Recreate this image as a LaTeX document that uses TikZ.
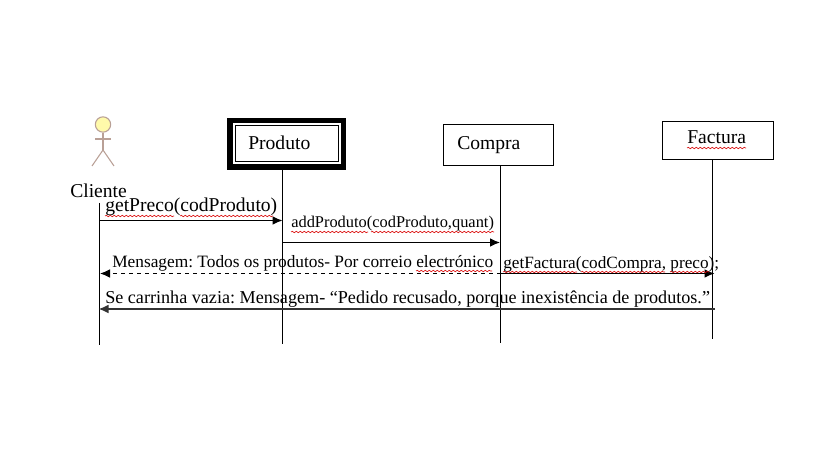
\documentclass[tikz,border=0pt]{standalone}
\usepackage{fontspec}
\setmainfont{Liberation Serif}
\usetikzlibrary{arrows.meta,decorations.pathmorphing}
\definecolor{headfill}{RGB}{255,250,170}
\definecolor{actorline}{RGB}{185,160,150}
\tikzset{
  obj/.style={draw,line width=0.75pt,fill=white,inner sep=0pt},
  lbl/.style={inner sep=0pt,anchor=base west,font=\fontsize{14.7}{16}\selectfont},
  msg/.style={inner sep=0pt,anchor=base west,font=\fontsize{13}{15}\selectfont},
  life/.style={line width=0.85pt},
  call/.style={-{Latex[length=7.5pt,width=6.5pt]},line width=0.85pt},
  spell/.style={red!85!black,line width=0.45pt,decorate,decoration={snake,amplitude=0.5pt,segment length=3pt}}
}
\frenchspacing
\begin{document}
\begin{tikzpicture}[x=0.75pt,y=-0.75pt]
\useasboundingbox (0,0) rectangle (819,460);

% objects
\node[obj,minimum width=77.25pt,minimum height=27pt] (produto) at (286.5,144) {};
\draw[line width=4.2pt] ([shift={(-3.6pt,-3.2pt)}]produto.south west) rectangle ([shift={(3.6pt,3.6pt)}]produto.north east);
\node[obj,minimum width=82.5pt,minimum height=30.75pt] (compra) at (498,145.5) {};
\node[obj,minimum width=83.25pt,minimum height=28.5pt] (factura) at (717.5,141) {};
\node[lbl] (produtoLbl) at (248,149.5) {Produto};
\node[lbl] (compraLbl) at (457,149.5) {Compra};
\node[lbl] (facturaLbl) at (687,144) {Factura};
\draw[spell] (687,148) -- (746,148);

% actor
\node[circle,draw=actorline,fill=headfill,line width=0.8pt,minimum size=11.5pt,inner sep=0pt] (head) at (103,124.5) {};
\coordinate (hip) at (103,150);
\draw[actorline,line width=0.8pt] (head) -- (hip);
\draw[actorline,line width=0.8pt] (95,139) -- (111,139);
\draw[actorline,line width=0.8pt] (92,166) -- (hip) -- (114,166);
\node[lbl] (cliente) at (70,198) {Cliente};

% lifelines
\coordinate (clienteTop) at (99.5,203);
\coordinate (clienteEnd) at (99.5,345);
\coordinate (produtoTop) at (282.5,169);
\coordinate (produtoEnd) at (282.5,344);
\coordinate (compraTop) at (500.5,166);
\coordinate (compraEnd) at (500.5,343);
\coordinate (facturaTop) at (712.5,160);
\coordinate (facturaEnd) at (712.5,339);
\draw[life] (clienteTop) -- (clienteEnd);
\draw[life] (produtoTop) -- (produtoEnd);
\draw[life] (compraTop) -- (compraEnd);
\draw[life] (facturaTop) -- (facturaEnd);

% messages
\coordinate (m1a) at (99.5,220.5);
\coordinate (m1b) at (282.5,220.5);
\coordinate (m2a) at (282.5,242.5);
\coordinate (m2b) at (500,242.5);
\coordinate (m3a) at (500.5,273.5);
\coordinate (m3b) at (100,273.5);
\coordinate (m4a) at (500.5,273.5);
\coordinate (m4b) at (714.5,273.5);
\coordinate (m5a) at (715,309);
\coordinate (m5b) at (98.5,309);
\draw[call] (m1a) -- (m1b);
\draw[call] (m2a) -- (m2b);
\draw[call,dashed] (m3a) -- (m3b);
\draw[call] (m4a) -- (m4b);
\draw[call,line width=1.1pt,black!80] (m5a) -- (m5b);

\node[lbl] (getPreco) at (105,212) {getPreco(codProduto)};
\draw[spell] (105,216) -- (174,216);
\draw[spell] (180,216) -- (273,216);
\node[msg,font=\fontsize{12.3}{15}\selectfont] (addProduto) at (291,228) {addProduto(codProduto,quant)};
\draw[spell] (291,232) -- (368,232);
\draw[spell] (371,232) -- (494,232);
\node[msg] (mensagem) at (112,267.5) {Mensagem: Todos os produtos- Por correio electrónico};
\draw[spell] (416,271) -- (492,271);
\node[msg,font=\fontsize{12.9}{15}\selectfont] (getFactura) at (503,268.5) {getFactura(codCompra, preco);};
\draw[spell] (503,272) -- (577,272);
\draw[spell] (581,272) -- (665,272);
\draw[spell] (670,272) -- (709,272);
\node[msg,font=\fontsize{13.6}{15}\selectfont] (carrinha) at (105,303) {Se carrinha vazia: Mensagem- “Pedido recusado, porque inexistência de produtos.”};
\end{tikzpicture}
\end{document}
